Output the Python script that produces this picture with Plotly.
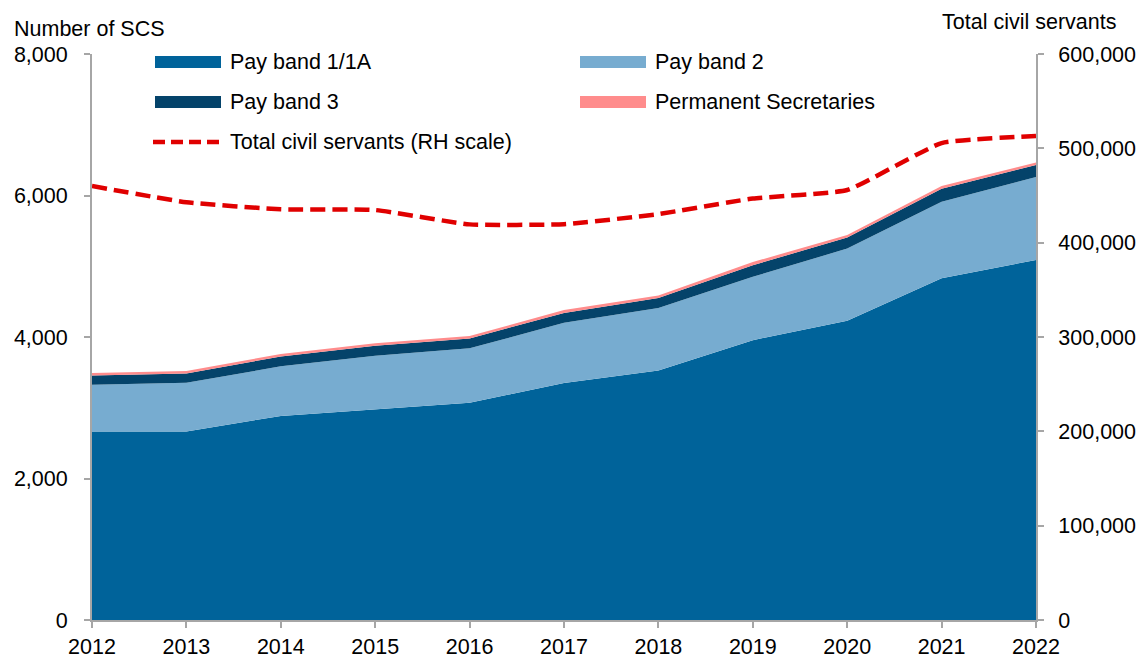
import plotly.graph_objects as go

# data
years = [2012, 2013, 2014, 2015, 2016, 2017, 2018, 2019, 2020, 2021, 2022]
pay_band_1 = [2665, 2665, 2885, 2975, 3070, 3350, 3525, 3955, 4230, 4830, 5090]
pay_band_2 = [660, 690, 700, 760, 770, 850, 885, 895, 1020, 1080, 1170]
pay_band_3 = [130, 130, 140, 140, 140, 140, 140, 165, 155, 185, 170]
perm_secs = [35, 35, 35, 35, 35, 40, 35, 45, 35, 38, 35]
total_civil_servants = [460000, 442800, 435400, 434600, 419400, 419600,
                        430300, 446800, 455800, 505600, 513000]

left_ticks = [0, 2000, 4000, 6000, 8000]
right_ticks = [0, 100000, 200000, 300000, 400000, 500000, 600000]

c_band1 = "#00639A"
c_band2 = "#77ACD0"
c_band3 = "#04436A"
c_ps = "#FF8C8C"
c_total = "#E00000"
font = "Liberation Sans, Arial, sans-serif"
fsize = 21.5

fig = go.Figure()
for name, vals, col in [("Pay band 1/1A", pay_band_1, c_band1),
                        ("Pay band 2", pay_band_2, c_band2),
                        ("Pay band 3", pay_band_3, c_band3),
                        ("Permanent Secretaries", perm_secs, c_ps)]:
    fig.add_trace(go.Scatter(x=years, y=vals, name=name, stackgroup="scs",
                             mode="lines", line=dict(width=0, color=col),
                             fillcolor=col, showlegend=False))

fig.add_trace(go.Scatter(x=years, y=total_civil_servants, yaxis="y2",
                         name="Total civil servants (RH scale)", mode="lines",
                         line=dict(color=c_total, width=4.5, dash="15px,7px",
                                   shape="spline", smoothing=0.4),
                         showlegend=False))

# hand-drawn legend with wide swatches
legend_items = [("Pay band 1/1A", c_band1, 155, 62, "box"),
                ("Pay band 2", c_band2, 580, 62, "box"),
                ("Pay band 3", c_band3, 155, 102, "box"),
                ("Permanent Secretaries", c_ps, 580, 102, "box"),
                ("Total civil servants (RH scale)", c_total, 155, 142, "dash")]
W, H = 1139, 659
L, R, T, B = 92, 1036, 54, 620


def px_x(p):
    return (p - L) / (R - L)


def px_y(p):
    return (B - p) / (B - T)


for label, col, x0, yc, kind in legend_items:
    if kind == "box":
        fig.add_shape(type="rect", xref="paper", yref="paper",
                      x0=px_x(x0), x1=px_x(x0 + 66), y0=px_y(yc + 6), y1=px_y(yc - 6),
                      fillcolor=col, line=dict(width=0))
    else:
        fig.add_shape(type="line", xref="paper", yref="paper",
                      x0=px_x(x0 - 2), x1=px_x(x0 + 66), y0=px_y(yc), y1=px_y(yc),
                      line=dict(color=col, width=4.5, dash="12px,6px"))
    fig.add_annotation(text=label, xref="paper", yref="paper", x=px_x(x0 + 73),
                       y=px_y(yc), xanchor="left", yanchor="middle", showarrow=False,
                       font=dict(size=fsize, color="black", family=font))

fig.add_annotation(text="Number of SCS", xref="paper", yref="paper",
                   x=px_x(12), y=px_y(29), xanchor="left", yanchor="middle",
                   showarrow=False, font=dict(size=fsize, color="black", family=font))
fig.add_annotation(text="Total civil servants", xref="paper", yref="paper",
                   x=px_x(1118), y=px_y(22), xanchor="right", yanchor="middle",
                   showarrow=False, font=dict(size=fsize, color="black", family=font))

axis_common = dict(showgrid=False, zeroline=False, showline=True, linecolor="#A6A6A6",
                   linewidth=2, ticks="outside", tickcolor="#A6A6A6", ticklen=6,
                   tickwidth=2, automargin=False,
                   tickfont=dict(size=fsize, color="black", family=font))

fig.update_layout(
    width=W, height=H,
    margin=dict(l=L, r=W - R, t=T, b=H - B),
    paper_bgcolor="white", plot_bgcolor="white",
    font=dict(family=font, size=fsize, color="black"),
    xaxis=dict(range=[years[0], years[-1]], tickvals=years, **axis_common),
    yaxis=dict(range=[0, 8000], tickvals=left_ticks, tickformat=",",
               ticklabelstandoff=12, **axis_common),
    yaxis2=dict(range=[0, 600000], tickvals=right_ticks, tickformat=",",
                overlaying="y", side="right", ticklabelstandoff=10, **axis_common),
)

fig.write_html("out.html", config={"displayModeBar": False},
               post_script="document.body.style.margin='0';document.body.style.overflow='hidden';")
